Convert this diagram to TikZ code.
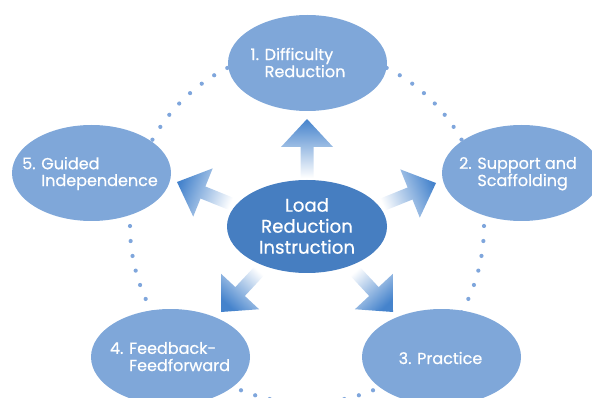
\documentclass[tikz,border=0pt]{standalone}
\usepackage{fontspec}
\setmainfont{Poppins}[FakeBold=0.6]
\usetikzlibrary{shapes.geometric}
\definecolor{petal}{HTML}{7FA7D9}
\definecolor{hub}{HTML}{467EC1}
\definecolor{dotblue}{HTML}{7FA6DC}
\definecolor{arrowblue}{HTML}{4583CC}
% labels with a hanging second line
\newcommand\steplabel[3]{\begin{tabular}{@{}l@{\space}l@{}}#1 & #2\\ & #3\end{tabular}}
% shaded block arrow: tip x, tip y, direction, shading angle
\newcommand\fadearrow[4]{%
  \begin{scope}[shift={(#1,#2)}, rotate=#3]
    \shade[top color=arrowblue, middle color=arrowblue!45!white, bottom color=white, shading angle=#4]
      (0,0) -- (-28,26) -- (-28,6.5) -- (-59,6.5) -- (-59,-6.5)
      -- (-28,-6.5) -- (-28,-26) -- cycle;
  \end{scope}}
\begin{document}
\begin{tikzpicture}[x=1pt, y=-1pt,
  petalnode/.style={ellipse, fill=petal, minimum width=159pt, minimum height=96pt, inner sep=0pt},
  hubnode/.style={ellipse, fill=hub, minimum width=160pt, minimum height=93pt, inner sep=0pt},
  petaltext/.style={text=white, font=\fontsize{16}{16.5}\selectfont, inner sep=0pt},
  hubtext/.style={text=white, font=\fontsize{18.2}{21}\selectfont, align=center, inner sep=0pt},
  dotline/.style={draw=dotblue, line width=4.2pt, line cap=round, dash pattern=on 0pt off 15.03pt}]
\useasboundingbox (0,0) rectangle (592,398);
\clip (0,0) rectangle (592,398);

% dotted ring behind the cycle
\coordinate (ringc) at (307,226);
\draw[dotline] (ringc) circle[radius=177];

% cycle stages
\node[petalnode] (s1) at (307.5,63) {};
\node[petalnode] (s2) at (521.5,173) {};
\node[petalnode] (s3) at (441.5,357) {};
\node[petalnode] (s4) at (170.5,357) {};
\node[petalnode] (s5) at (91.5,173) {};

\node[petaltext] (t1) at (298,65) {\steplabel{1.}{Difficulty}{Reduction}};
\node[petaltext] (t2) at (518,174) {\steplabel{2.}{Support and}{Scaffolding}};
\node[petaltext] (t3) at (440.5,358) {3. Practice};
\node[petaltext] (t4) at (170,359) {\steplabel{4.}{Feedback-}{Feedforward}};
\node[petaltext] (t5) at (90,174) {\steplabel{5.}{Guided}{Independence}};

% central hub
\node[hubnode] (hub) at (307,226.5) {};
\node[hubtext] (ht) at (307,226) {Load\\Reduction\\Instruction};

% arrows radiating from the hub
\fadearrow{307}{119}{90}{0}
\fadearrow{177}{182}{158}{68}
\fadearrow{436}{183}{22}{-68}
\fadearrow{221}{312}{227}{137}
\fadearrow{393}{312}{313}{-137}
\end{tikzpicture}
\end{document}
